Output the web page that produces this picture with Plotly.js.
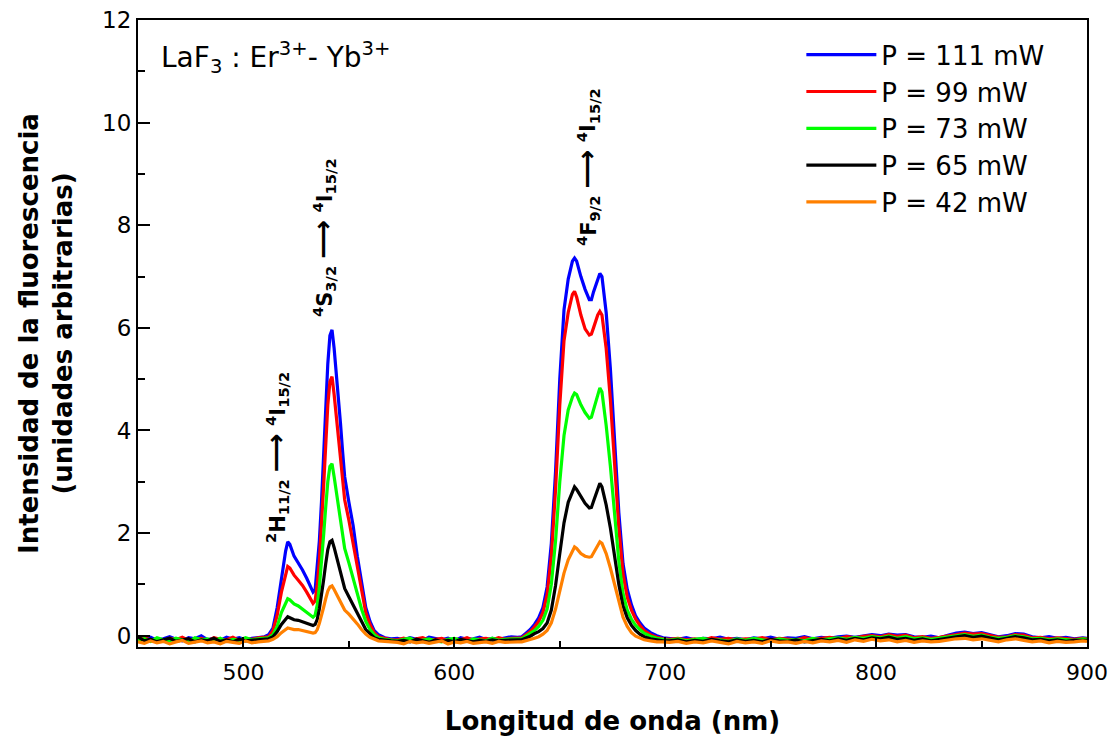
<!DOCTYPE html>
<html>
<head>
<meta charset="utf-8">
<script src="https://cdn.plot.ly/plotly-3.0.1.min.js"></script>
<style>html,body{margin:0;padding:0;background:#fff;}#chart{width:1120px;height:737px;}</style>
</head>
<body>
<div id="chart"></div>
<script>
// Wavelength (nm)
const wavelength = [
  450,453,456,459,462,465,468,471,474,477,480,483,486,489,492,495,498,501,504,507,510,
  512,514,516,518,520,521,522,524,526,528,530,532,533,534,535,536,537,538,539,540,
  541,542,543,544,545,546,547,548,550,552,554,556,558,560,562,564,567,570,
  573,576,579,582,585,588,591,594,597,600,603,606,609,612,615,618,621,624,627,630,
  632,634,636,638,640,642,644,646,648,650,652,654,656,657,658,660,662,664,665,666,
  668,669,670,672,674,676,678,680,682,684,686,688,690,693,696,699,
  702,706,710,714,718,722,726,730,734,738,742,746,750,754,758,762,766,770,774,778,
  782,786,790,794,798,802,806,810,814,818,822,826,830,834,838,842,846,850,854,858,
  862,866,870,874,878,882,886,890,894,898,900
];

const seriesNames = ["P = 111 mW", "P = 99 mW", "P = 73 mW", "P = 65 mW", "P = 42 mW"];
const seriesColors = ["#0000FF", "#FF0000", "#00FF00", "#000000", "#FF8000"];

const p111 = [
  -0.05,-0.08,-0.03,-0.09,-0.06,-0.02,-0.07,-0.1,-0.04,-0.06,0.0,-0.08,-0.05,-0.09,-0.03,-0.07,-0.04,-0.08,-0.05,-0.03,-0.02,
  0.02,0.15,0.55,1.15,1.65,1.83,1.78,1.55,1.42,1.28,1.12,0.95,0.85,0.9,1.3,1.85,2.6,3.5,4.4,5.3,
  5.85,5.96,5.6,5.15,4.55,4.15,3.6,3.1,2.6,2.15,1.55,1.05,0.55,0.28,0.1,0.02,-0.04,-0.06,
  -0.05,-0.08,-0.04,-0.07,-0.09,-0.03,-0.06,-0.08,-0.05,-0.1,-0.04,-0.07,-0.06,-0.03,-0.08,-0.05,-0.07,-0.04,-0.02,-0.03,
  -0.02,0.05,0.12,0.22,0.35,0.55,0.95,1.8,3.2,5.0,6.35,6.95,7.3,7.36,7.3,7.0,6.75,6.55,6.55,6.7,
  6.95,7.06,7.0,6.3,5.2,3.8,2.4,1.4,0.9,0.6,0.38,0.25,0.15,0.06,0.0,-0.04,
  -0.05,-0.07,-0.04,-0.08,-0.05,-0.06,-0.03,-0.07,-0.05,-0.08,-0.04,-0.06,-0.03,-0.07,-0.04,-0.05,-0.02,-0.06,-0.03,-0.05,
  -0.02,-0.01,-0.03,0.0,0.02,0.0,0.03,0.01,0.02,-0.02,-0.03,-0.01,-0.04,0.01,0.05,0.07,0.04,0.06,0.02,-0.02,
  0.0,0.04,0.03,-0.02,-0.04,-0.02,-0.05,-0.03,-0.06,-0.04,-0.05
];
const p99 = [
  -0.07,-0.04,-0.09,-0.06,-0.1,-0.05,-0.08,-0.03,-0.09,-0.07,-0.05,-0.1,-0.04,-0.07,-0.08,-0.03,-0.09,-0.06,-0.07,-0.04,-0.03,
  -0.02,0.1,0.4,0.85,1.22,1.35,1.32,1.18,1.08,0.98,0.85,0.72,0.63,0.68,1.0,1.45,2.1,2.9,3.7,4.5,
  4.95,5.05,4.7,4.3,3.85,3.5,3.05,2.65,2.25,1.8,1.3,0.88,0.45,0.22,0.06,-0.02,-0.05,-0.08,
  -0.08,-0.05,-0.1,-0.06,-0.04,-0.09,-0.07,-0.05,-0.1,-0.06,-0.08,-0.04,-0.09,-0.06,-0.05,-0.08,-0.04,-0.07,-0.05,-0.04,
  -0.04,0.02,0.08,0.17,0.28,0.45,0.8,1.55,2.85,4.5,5.75,6.3,6.65,6.71,6.6,6.25,5.98,5.86,5.88,6.0,
  6.25,6.32,6.25,5.6,4.6,3.35,2.1,1.2,0.75,0.5,0.32,0.2,0.1,0.02,-0.03,-0.06,
  -0.07,-0.05,-0.08,-0.06,-0.09,-0.04,-0.07,-0.05,-0.08,-0.06,-0.07,-0.04,-0.08,-0.05,-0.06,-0.08,-0.04,-0.07,-0.05,-0.03,
  -0.06,-0.02,-0.04,-0.01,0.0,-0.02,0.02,-0.01,0.01,-0.04,-0.02,-0.05,-0.03,-0.01,0.02,0.05,0.03,0.04,0.0,-0.03,
  -0.02,0.02,0.01,-0.04,-0.03,-0.06,-0.04,-0.05,-0.07,-0.05,-0.06
];
const p73 = [
  -0.09,-0.06,-0.11,-0.04,-0.08,-0.1,-0.05,-0.09,-0.12,-0.04,-0.08,-0.06,-0.1,-0.05,-0.11,-0.07,-0.09,-0.04,-0.08,-0.06,-0.05,
  -0.04,0.02,0.18,0.45,0.65,0.72,0.7,0.62,0.58,0.52,0.46,0.4,0.36,0.4,0.6,0.95,1.4,1.95,2.5,3.0,
  3.3,3.35,3.1,2.8,2.5,2.25,1.95,1.7,1.42,1.12,0.8,0.52,0.28,0.12,0.02,-0.04,-0.07,-0.08,
  -0.1,-0.07,-0.05,-0.11,-0.08,-0.06,-0.1,-0.12,-0.07,-0.05,-0.09,-0.11,-0.06,-0.08,-0.1,-0.05,-0.09,-0.07,-0.06,-0.06,
  -0.06,-0.01,0.04,0.1,0.18,0.3,0.52,1.0,1.85,3.0,3.9,4.4,4.65,4.73,4.7,4.5,4.35,4.24,4.26,4.4,
  4.72,4.83,4.75,4.1,3.3,2.35,1.45,0.82,0.5,0.32,0.2,0.12,0.05,-0.01,-0.05,-0.07,
  -0.09,-0.06,-0.1,-0.07,-0.05,-0.09,-0.08,-0.11,-0.06,-0.09,-0.05,-0.08,-0.1,-0.06,-0.09,-0.07,-0.1,-0.05,-0.08,-0.06,
  -0.04,-0.07,-0.03,-0.05,-0.02,-0.04,-0.01,-0.05,-0.02,-0.06,-0.04,-0.07,-0.05,-0.02,0.0,0.02,-0.01,0.01,-0.03,-0.05,
  -0.03,0.0,-0.02,-0.06,-0.05,-0.08,-0.06,-0.07,-0.09,-0.06,-0.07
];
const p65 = [
  -0.02,-0.1,-0.07,-0.12,-0.08,-0.05,-0.11,-0.09,-0.06,-0.12,-0.08,-0.1,-0.05,-0.11,-0.08,-0.12,-0.07,-0.1,-0.09,-0.07,-0.07,
  -0.06,-0.02,0.08,0.22,0.33,0.37,0.35,0.31,0.3,0.27,0.25,0.22,0.2,0.22,0.32,0.52,0.78,1.08,1.4,1.68,
  1.83,1.86,1.72,1.55,1.38,1.22,1.06,0.92,0.76,0.6,0.42,0.26,0.12,0.04,-0.04,-0.07,-0.09,-0.1,
  -0.11,-0.09,-0.12,-0.07,-0.1,-0.13,-0.08,-0.11,-0.09,-0.12,-0.07,-0.1,-0.12,-0.09,-0.11,-0.08,-0.1,-0.09,-0.08,-0.08,
  -0.08,-0.05,-0.01,0.04,0.08,0.14,0.25,0.5,0.98,1.6,2.2,2.6,2.82,2.9,2.85,2.72,2.58,2.49,2.5,2.62,
  2.86,2.97,2.9,2.55,2.1,1.55,1.0,0.58,0.35,0.2,0.1,0.03,-0.02,-0.06,-0.08,-0.1,
  -0.1,-0.08,-0.12,-0.09,-0.11,-0.07,-0.1,-0.12,-0.08,-0.11,-0.09,-0.12,-0.07,-0.1,-0.11,-0.08,-0.12,-0.09,-0.07,-0.1,
  -0.06,-0.09,-0.05,-0.08,-0.04,-0.06,-0.03,-0.07,-0.05,-0.09,-0.06,-0.1,-0.07,-0.04,-0.02,0.0,-0.03,-0.01,-0.05,-0.08,
  -0.05,-0.02,-0.04,-0.08,-0.07,-0.1,-0.08,-0.11,-0.09,-0.1,-0.09
];
const p42 = [
  -0.12,-0.15,-0.1,-0.14,-0.11,-0.16,-0.12,-0.09,-0.15,-0.13,-0.1,-0.14,-0.12,-0.16,-0.11,-0.13,-0.15,-0.1,-0.14,-0.12,-0.11,
  -0.1,-0.07,-0.02,0.06,0.12,0.15,0.14,0.12,0.12,0.1,0.08,0.06,0.05,0.06,0.12,0.24,0.38,0.55,0.72,0.87,
  0.95,0.97,0.9,0.82,0.73,0.65,0.57,0.5,0.42,0.33,0.23,0.12,0.03,-0.03,-0.07,-0.1,-0.11,-0.12,
  -0.13,-0.16,-0.11,-0.14,-0.12,-0.15,-0.13,-0.1,-0.16,-0.12,-0.14,-0.11,-0.15,-0.13,-0.12,-0.15,-0.11,-0.13,-0.12,-0.12,
  -0.12,-0.1,-0.08,-0.05,-0.02,0.03,0.1,0.25,0.52,0.88,1.22,1.48,1.66,1.73,1.7,1.6,1.55,1.53,1.54,1.62,
  1.78,1.83,1.8,1.6,1.32,0.98,0.64,0.36,0.18,0.06,-0.01,-0.05,-0.08,-0.1,-0.12,-0.12,
  -0.13,-0.11,-0.15,-0.12,-0.14,-0.1,-0.13,-0.16,-0.11,-0.14,-0.12,-0.15,-0.1,-0.13,-0.12,-0.15,-0.11,-0.14,-0.1,-0.12,
  -0.09,-0.13,-0.08,-0.11,-0.07,-0.1,-0.08,-0.12,-0.09,-0.13,-0.1,-0.12,-0.11,-0.08,-0.06,-0.05,-0.08,-0.06,-0.09,-0.12,
  -0.08,-0.06,-0.09,-0.12,-0.1,-0.14,-0.11,-0.13,-0.12,-0.1,-0.11
];

const xTickVals = [500, 600, 700, 800, 900];
const yTickVals = [0, 2, 4, 6, 8, 10, 12];

const FONT = "DejaVu Sans, Liberation Sans, Arial, sans-serif";
const seriesData = [p111, p99, p73, p65, p42];

const traces = seriesData.map((ys, i) => ({
  type: "scatter",
  mode: "lines",
  x: wavelength,
  y: ys,
  name: seriesNames[i],
  line: { color: seriesColors[i], width: 3.2 }
}));

const ARROW = "<span style='font-size:27px'>⟶</span>";

const layout = {
  width: 1120,
  height: 737,
  margin: { l: 138, r: 33, t: 20, b: 90 },
  paper_bgcolor: "#ffffff",
  plot_bgcolor: "#ffffff",
  font: { family: FONT, color: "#000000" },
  showlegend: true,
  legend: {
    x: 0.699, y: 0.982, xanchor: "left", yanchor: "top",
    bgcolor: "rgba(0,0,0,0)", borderwidth: 0,
    font: { size: 26, family: FONT, color: "#000" },
    itemwidth: 70, tracegroupgap: 0
  },
  xaxis: {
    range: [450, 900],
    tickvals: xTickVals,
    ticktext: xTickVals.map(String),
    ticks: "inside", ticklen: 10, tickwidth: 2, tickcolor: "#000",
    minor: { ticks: "inside", ticklen: 6, tickwidth: 2, tickcolor: "#000", tickvals: [550, 650, 750, 850] },
    showline: true, linewidth: 2, linecolor: "#000", mirror: true,
    showgrid: false, zeroline: false,
    tickfont: { size: 22, family: FONT },
    ticklabelstandoff: 5,
    title: { text: "<b>Longitud de onda (nm)</b>", font: { size: 26, family: FONT }, standoff: 27 },
    automargin: false
  },
  yaxis: {
    range: [-0.22, 12],
    tickvals: yTickVals,
    ticktext: yTickVals.map(String),
    ticks: "inside", ticklen: 12, tickwidth: 2, tickcolor: "#000",
    minor: { ticks: "inside", ticklen: 7, tickwidth: 2, tickcolor: "#000", tickvals: [1, 3, 5, 7, 9, 11] },
    showline: true, linewidth: 2, linecolor: "#000", mirror: true,
    showgrid: false, zeroline: false,
    tickfont: { size: 23, family: FONT },
    title: { text: "<b>Intensidad de la fluorescencia<br>(unidades arbitrarias)</b>", font: { size: 26, family: FONT }, standoff: 22 },
    automargin: false
  },
  annotations: [
    { xref: "paper", yref: "paper", x: 0.022, y: 0.94, xanchor: "left", yanchor: "middle", showarrow: false,
      text: "LaF<sub>3</sub> : Er<sup>3+</sup>- Yb<sup>3+</sup>", font: { size: 28, family: FONT } },
    { xref: "x", yref: "y", x: 515.4, y: 3.48, showarrow: false, textangle: -90,
      text: "<b><sup>2</sup>H<sub>11/2</sub> " + ARROW + " <sup>4</sup>I<sub>15/2</sub></b>", font: { size: 21, family: FONT } },
    { xref: "x", yref: "y", x: 537.7, y: 7.77, showarrow: false, textangle: -90,
      text: "<b><sup>4</sup>S<sub>3/2</sub> " + ARROW + " <sup>4</sup>I<sub>15/2</sub></b>", font: { size: 21, family: FONT } },
    { xref: "x", yref: "y", x: 662.8, y: 9.13, showarrow: false, textangle: -90,
      text: "<b><sup>4</sup>F<sub>9/2</sub> " + ARROW + " <sup>4</sup>I<sub>15/2</sub></b>", font: { size: 21, family: FONT } }
  ]
};

Plotly.newPlot("chart", traces, layout, { displayModeBar: false, staticPlot: true });
</script>
</body>
</html>
